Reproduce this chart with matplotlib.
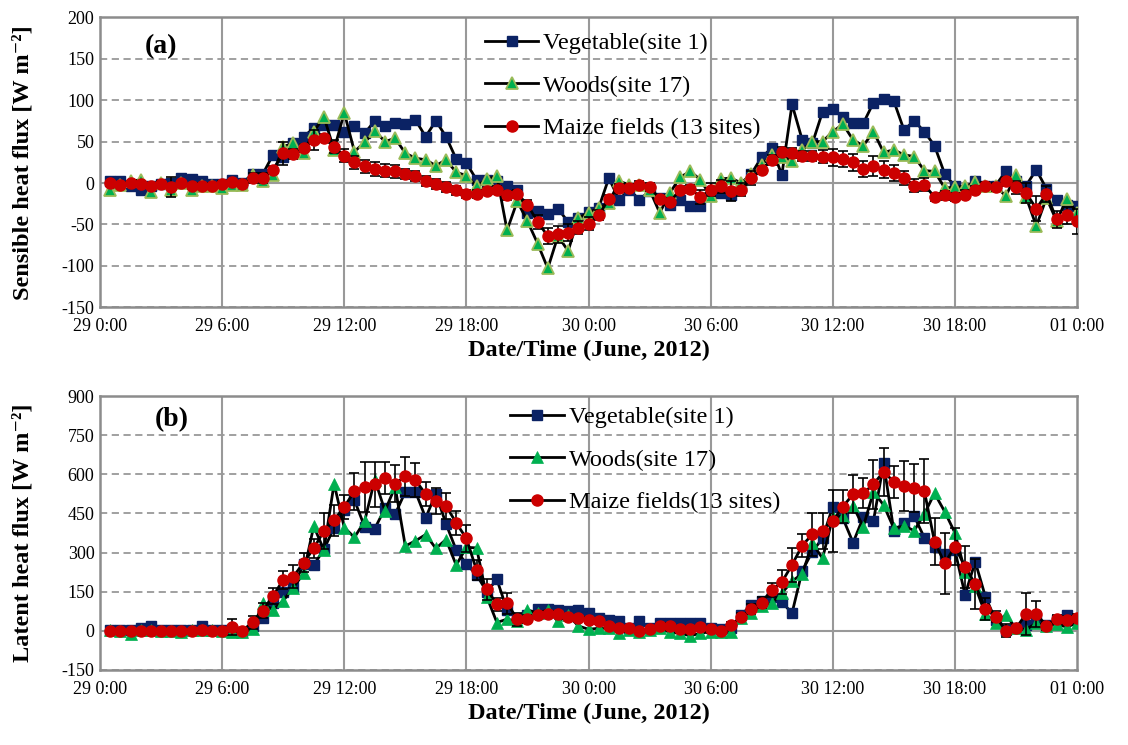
# -*- coding: utf-8 -*-
import numpy as np
import matplotlib as mpl
mpl.use('Agg')
import matplotlib.pyplot as plt
from matplotlib.lines import Line2D

plt.rcParams['font.family'] = ['Liberation Serif', 'DejaVu Serif']
plt.rcParams['axes.unicode_minus'] = False

# half-hourly time stamps, hours since 29 June 0:00
hours = np.arange(1, 97) * 0.5
tick_hours = [0, 6, 12, 18, 24, 30, 36, 42, 48]
tick_labels = ["29 0:00", "29 6:00", "29 12:00", "29 18:00", "30 0:00",
               "30 6:00", "30 12:00", "30 18:00", "01 0:00"]

# ---- (a) sensible heat flux ----
veg_h = [3, 2, -4, -8, -4, -1, 0, 6, 5, 2, -1, -1, 4, 0, 11, 11,
         34, 32, 48, 56, 66, 70, 70, 62, 69, 60, 75, 69, 73, 71, 76, 56,
         75, 56, 29, 24, 4, 4, 2, -3, -9, -36, -34, -37, -31, -47, -42, -35,
         -30, 6, -20, -8, -20, -10, -18, -26, -20, -28, -28, -12, -12, -14, -5, 11,
         31, 42, 10, 95, 52, 48, 86, 89, 80, 73, 72, 97, 102, 99, 64, 75,
         62, 45, 11, -4, -9, 2, -3, -3, 14, 3, -3, 16, -7, -21, -26, -28]
wood_h = [-8, -2, 2, 4, -11, 0, -8, 0, -8, -4, -4, -6, -2, -2, 10, 2,
          10, 44, 48, 36, 62, 80, 40, 85, 38, 49, 63, 50, 54, 36, 30, 28,
          21, 28, 13, 9, -4, 5, 8, -57, -22, -46, -73, -103, -64, -82, -42, -36,
          -30, -24, 2, -2, -2, -8, -36, -12, 7, 14, 4, -16, 5, 6, 0, 11,
          22, 34, 31, 27, 40, 50, 50, 62, 71, 52, 45, 62, 37, 40, 34, 32,
          15, 14, -6, -5, -4, 1, -3, -3, -16, 10, -17, -52, -18, -46, -19, -36]
maize_h = [0, -2, 0, -1, -3, -1, -5, 0, -4, -3, -3, -1, 1, -1, 6, 6,
           16, 36, 35, 42, 52, 54, 44, 33, 25, 20, 17, 15, 14, 11, 8, 3,
           -1, -5, -9, -13, -13, -10, -8, -15, -13, -26, -47, -64, -62, -60, -54, -49,
           -39, -19, -6, -6, -2, -5, -19, -23, -8, -7, -17, -8, -4, -10, -8, 6,
           16, 28, 38, 36, 33, 33, 32, 31, 29, 25, 17, 21, 16, 12, 6, -3,
           -2, -17, -15, -17, -14, -8, -4, -5, 2, -5, -12, -31, -13, -44, -39, -46]
maize_h_err = [3, 3, 3, 3, 3, 3, 12, 3, 3, 3, 3, 3, 3, 3, 6, 6,
               5, 14, 6, 5, 12, 5, 8, 8, 8, 8, 8, 8, 8, 6, 6, 6,
               6, 6, 6, 5, 5, 5, 5, 5, 5, 6, 8, 10, 10, 10, 8, 8,
               6, 5, 5, 5, 5, 5, 5, 5, 5, 5, 8, 8, 8, 12, 8, 8,
               5, 6, 6, 6, 6, 6, 8, 10, 10, 10, 10, 12, 10, 10, 8, 8,
               8, 5, 5, 5, 5, 5, 5, 5, 5, 8, 12, 15, 10, 10, 10, 15]

# ---- (b) latent heat flux ----
veg_le = [5, 5, 3, 10, 17, 3, 2, 3, 2, 17, 5, 3, -6, -6, 17, 48,
          106, 150, 169, 256, 252, 312, 396, 465, 501, 399, 392, 469, 447, 533, 533, 433,
          526, 410, 310, 256, 215, 150, 197, 80, 48, 60, 83, 83, 80, 78, 80, 70,
          48, 40, 36, 10, 36, 10, 32, 32, 32, 32, 32, 10, 6, 10, 61, 99,
          116, 131, 110, 68, 230, 304, 355, 476, 431, 338, 435, 422, 642, 384, 412, 440,
          357, 320, 295, 310, 138, 265, 131, 42, 4, 10, 23, 42, 23, 40, 61, 46]
wood_le = [2, 0, -11, 2, 3, 0, 0, -3, 2, 3, 2, 0, -3, -3, 8, 106,
           80, 115, 166, 220, 401, 310, 564, 396, 358, 420, 580, 460, 552, 325, 345, 369,
           316, 350, 252, 320, 318, 131, 32, 45, 36, 80, 68, 80, 36, 60, 19, 6,
           10, 10, -9, 4, -3, 4, 10, -6, -9, -19, -9, -3, -6, -3, 48, 68,
           97, 106, 144, 191, 218, 335, 278, 435, 440, 478, 399, 533, 482, 393, 402, 384,
           448, 527, 457, 376, 227, 170, 65, 30, 61, 10, 5, 30, 20, 25, 15, 30]
maize_le = [1, 1, 1, 1, 1, 0, -2, 1, 1, 4, 1, -2, 14, 1, 33, 78,
            134, 195, 208, 261, 316, 383, 424, 475, 535, 552, 561, 586, 564, 592, 577, 524,
            498, 479, 414, 354, 233, 159, 102, 106, 45, 46, 61, 65, 65, 55, 48, 42,
            36, 20, 10, 10, 1, 6, 17, 20, 6, 6, 13, 6, 0, 23, 52, 84,
            108, 157, 187, 253, 327, 370, 384, 421, 476, 524, 527, 562, 610, 571, 556, 546,
            536, 342, 259, 323, 246, 179, 83, 55, 1, 10, 65, 65, 19, 45, 42, 48]
maize_le_err = [5, 5, 5, 5, 5, 5, 5, 5, 5, 5, 5, 5, 30, 5, 25, 30,
                30, 35, 45, 37, 35, 70, 60, 45, 70, 95, 85, 60, 70, 75, 65, 45,
                50, 50, 45, 50, 40, 40, 25, 40, 25, 15, 10, 10, 10, 10, 10, 10,
                10, 10, 10, 10, 10, 10, 10, 10, 10, 10, 10, 10, 10, 10, 15, 20,
                20, 26, 46, 66, 43, 83, 69, 119, 64, 73, 57, 94, 92, 60, 96, 92,
                121, 89, 117, 70, 80, 96, 42, 20, 25, 15, 79, 50, 15, 15, 15, 15]

navy = '#0b2264'
red = '#cc0000'
green = '#00b050'
lgreen = '#9bbb59'
gridc = '#999999'


def draw_panel(ax, veg, wood, maize, err, wood_edge, ylim, ystep, ylabel, tag,
               tag_pos, labels, leg_anchor, xlab_y):
    for y in np.arange(ylim[0], ylim[1] + 1, ystep):
        if y == 0:
            ax.axhline(y, color=gridc, lw=1.5, zorder=1)
        else:
            ax.axhline(y, color=gridc, lw=1.3, ls=(0, (4, 2.5)), zorder=1)
    for x in tick_hours[1:-1]:
        ax.axvline(x, color=gridc, lw=1.5, zorder=1)

    mew = 1.3 if wood_edge != green else 0.5
    ax.plot(hours, veg, color='black', lw=2.0, marker='s', ms=7.5,
            mfc=navy, mec=navy, zorder=3)
    ax.plot(hours, wood, color='black', lw=2.0, marker='^', ms=8.5,
            mfc=green, mec=wood_edge, mew=mew, zorder=4)
    ax.errorbar(hours, maize, yerr=err, fmt='none', ecolor='black',
                elinewidth=1.2, capsize=3.5, capthick=1.2, zorder=4.5)
    ax.plot(hours, maize, color='black', lw=2.0, marker='o', ms=8,
            mfc=red, mec=red, zorder=5)

    ax.set_xlim(0, 48)
    ax.set_ylim(ylim)
    ax.set_xticks(tick_hours)
    ax.set_xticklabels(tick_labels, fontsize=13)
    ax.set_yticks(np.arange(ylim[0], ylim[1] + 1, ystep))
    ax.tick_params(length=0, labelsize=13, pad=4)
    ax.tick_params(axis='x', pad=8)
    for s in ax.spines.values():
        s.set_color('#8c8c8c')
        s.set_linewidth(1.8)
    ax.set_xlabel('Date/Time (June, 2012)', fontsize=17.5, fontweight='bold')
    ax.xaxis.set_label_coords(0.5, xlab_y)
    ax.set_ylabel(ylabel, fontsize=17.5, fontweight='bold')
    ax.yaxis.set_label_coords(-0.068, 0.5)
    ax.text(tag_pos[0], tag_pos[1], tag, transform=ax.transAxes, fontsize=20,
            fontweight='bold', ha='center', va='center')

    handles = [
        Line2D([], [], color='black', lw=2.0, marker='s', ms=7.5, mfc=navy, mec=navy),
        Line2D([], [], color='black', lw=2.0, marker='^', ms=8.5, mfc=green,
               mec=wood_edge, mew=mew),
        Line2D([], [], color='black', lw=2.0, marker='o', ms=8, mfc=red, mec=red),
    ]
    ax.legend(handles, labels, loc='upper left', bbox_to_anchor=leg_anchor,
              frameon=False, fontsize=17.5, handlelength=2.2,
              handletextpad=0.2, labelspacing=0.84, borderpad=0,
              borderaxespad=0)


fig = plt.figure(figsize=(11.28, 7.45), dpi=100)
ax1 = fig.add_axes([100 / 1128, 1 - 307.3 / 745, 977 / 1128, 290 / 745])
ax2 = fig.add_axes([100 / 1128, 1 - 670 / 745, 977 / 1128, 274 / 745])

draw_panel(ax1, veg_h, wood_h, maize_h, maize_h_err, lgreen, (-150, 200), 50,
           'Sensible heat flux [W m\u207b\u00b2]', '(a)', (0.062, 0.9),
           ['Vegetable(site 1)', 'Woods(site 17)', 'Maize fields (13 sites)'],
           (0.394, 0.948), -0.113)
draw_panel(ax2, veg_le, wood_le, maize_le, maize_le_err, green, (-150, 900), 150,
           'Latent heat flux [W m\u207b\u00b2]', '(b)', (0.073, 0.915),
           ['Vegetable(site 1)', 'Woods(site 17)', 'Maize fields(13 sites)'],
           (0.42, 0.963), -0.119)

plt.savefig('out.png', dpi=100)
plt.close()
